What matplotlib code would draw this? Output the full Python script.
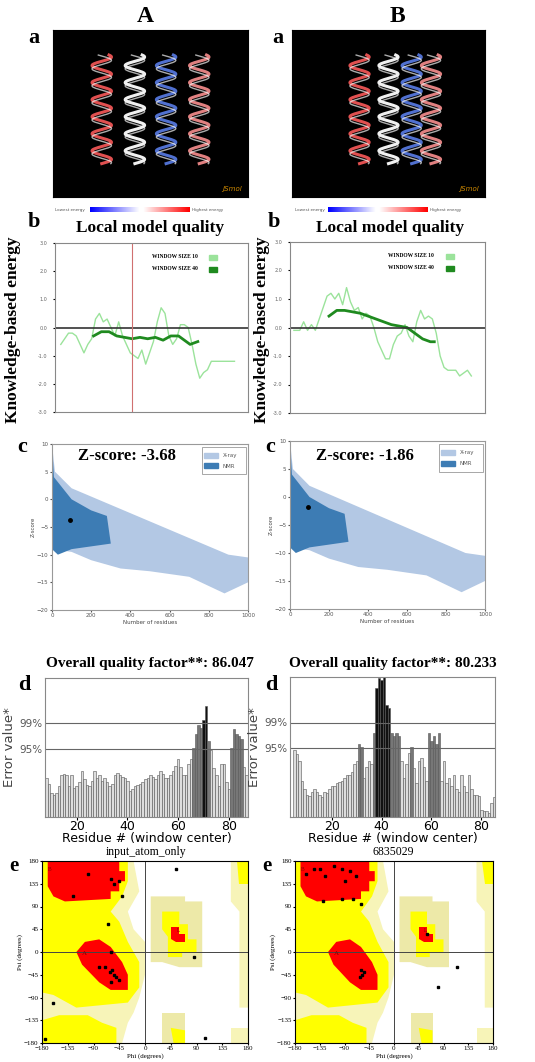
import numpy as np
import matplotlib
matplotlib.use("Agg")
import matplotlib.pyplot as plt
from matplotlib.patches import Polygon, Rectangle

W, H = 535, 1062
SERIF = ['Liberation Serif', 'DejaVu Serif']

# ---------------- data ----------------
# b: local model quality (x = residue fraction 0..100)
bA_x10 = [3,5,7,9,11,13,15,17,19,21,23,25,27,29,31,33,35,37,39,41,43,45,47,49,51,53,55,57,59,61,63,65,67,69,71,73,75,77,79,81,83,85,87,89,91,93]
bA_y10 = [-0.6,-0.4,-0.2,-0.2,-0.3,-0.6,-0.9,-0.6,-0.4,0.3,0.5,0.2,0.3,0.0,-0.3,0.2,-0.3,-0.6,-0.9,-1.0,-1.1,-0.8,-1.3,-0.9,-0.5,0.2,0.7,0.5,-0.3,-0.6,-0.4,0.1,0.1,0.0,-0.6,-1.3,-1.8,-1.6,-1.5,-1.2,-1.2,-1.2,-1.2,-1.2,-1.2,-1.2]
bA_x40 = [20,24,28,32,36,40,44,48,52,56,60,64,68,70,72,74]
bA_y40 = [-0.3,-0.15,-0.15,-0.3,-0.35,-0.4,-0.35,-0.4,-0.35,-0.45,-0.3,-0.3,-0.5,-0.6,-0.55,-0.5]
bB_x10 = [2,5,7,9,11,13,15,17,19,21,23,25,27,29,31,33,35,37,39,41,43,45,47,49,51,53,55,57,59,61,63,65,67,69,71,73,75,77,79,81,83,85,87,89,91,93]
bB_y10 = [-0.1,-0.1,0.2,-0.1,0.1,-0.1,0.3,0.7,1.1,1.2,1.0,1.2,0.8,1.4,0.9,0.6,0.7,0.3,0.5,0.4,0.0,-0.5,-0.8,-1.1,-1.1,-0.6,-0.3,-0.2,0.1,-0.3,-0.5,0.2,0.6,0.3,0.4,0.3,-0.2,-1.0,-1.4,-1.5,-1.5,-1.5,-1.7,-1.6,-1.5,-1.7]
bB_x40 = [20,24,28,32,36,40,44,48,52,56,60,64,68,72,74]
bB_y40 = [0.4,0.6,0.6,0.55,0.5,0.4,0.3,0.2,0.1,0.05,0.0,-0.2,-0.4,-0.5,-0.5]

# c: ProSA envelopes (number of residues, z-score)
xray_poly = [(0,10),(15,5),(100,2),(300,-1),(500,-4),(700,-7),(900,-10),(1000,-10.5),(1000,-15),(880,-17),(700,-14),(500,-13),(350,-12.5),(200,-11),(100,-9.5),(0,-9)]
nmr_poly = [(0,10),(10,4),(100,0),(200,-2),(280,-3),(300,-8),(200,-8.5),(100,-9),(30,-10),(0,-9)]
zscore_A, zscore_B = -3.68, -1.86
nres = 90

# d: ERRAT bars
errA_res = list(range(8, 88))
errA_val = [28,24,17,16,17,22,30,31,30,22,30,21,22,
            25,33,27,23,22,26,33,28,30,26,28,25,22,24,30,32,30,29,28,26,
            19,20,22,23,24,25,27,28,30,29,27,30,33,31,28,28,30,33,37,42,36,30,30,38,42,50,
            60,66,64,70,80,55,48,
            35,30,22,38,38,25,20,
            50,63,60,58,56,36,30]
errB_res = list(range(5, 86))
errB_val = [48,45,40,26,20,16,15,18,
            20,18,16,14,18,17,20,22,22,24,25,26,28,30,30,32,38,40,
            52,50,28,36,40,38,60,
            92,99,98,104,80,78,
            60,58,60,58,40,28,38,
            46,50,35,24,40,42,36,26,
            60,54,58,52,60,26,40,
            24,28,22,30,20,18,30,22,18,30,20,16,16,15,5,4,4,3,10,14]
errA_level = [49, 67.5]

# e: Ramachandran
rama_ticks = [-180,-135,-90,-45,0,45,90,135,180]
ptsA_phi = [-100,-60,-55,-45,-40,-65,-60,-58,-62,-55,-50,-70,-80,-45,-60,-125,-160,85,55,105,-175]
ptsA_psi = [155,145,135,140,110,55,0,-35,-40,-45,-50,-30,-30,-55,-60,110,-100,-10,165,-170,-172]
ptsB_phi = [-160,-145,-135,-125,-110,-95,-80,-75,-60,-70,-90,-95,-130,-60,-55,-58,-62,60,115,80]
ptsB_psi = [155,165,165,150,170,165,160,105,95,150,140,105,100,-35,-40,-45,-50,35,-30,-70]

beta_core = [(-170,180),(-45,180),(-45,160),(-35,160),(-35,140),(-45,140),(-45,120),(-60,120),(-60,105),(-140,100),(-160,110),(-170,130)]
alpha_core = [(-120,0),(-105,20),(-80,25),(-60,10),(-40,-20),(-30,-45),(-30,-75),(-60,-75),(-80,-60),(-110,-25)]
L_core = [(45,25),(45,50),(60,50),(60,35),(70,35),(70,20),(55,20)]
yel_main = [(-180,180),(-30,180),(-30,140),(-40,110),(-60,80),(-45,60),(-30,20),(-10,-20),(-10,-70),(-30,-100),(-120,-110),(-160,-85),(-180,-80)]
yel_bot = [(-180,-135),(-150,-125),(-100,-125),(-75,-140),(-50,-150),(-50,-180),(-180,-180)]
yel_L = [(30,80),(60,80),(60,55),(75,55),(75,25),(90,25),(90,0),(65,0),(65,-10),(40,-10),(40,30),(30,45)]
yel_top = [(160,180),(180,180),(180,135),(165,135)]
yel_gam = [(45,-150),(50,-180),(70,-180),(70,-155)]
pale_main = [(-180,180),(-20,180),(-10,120),(-30,80),(-20,45),(0,20),(0,-45),(-10,-90),(-20,-120),(-30,-140),(-40,-180),(-180,-180)]
pale_L = [(10,110),(70,110),(70,100),(100,100),(100,-30),(60,-30),(30,-20),(10,-20)]
pale_R = [(150,180),(180,180),(180,-110),(165,-110),(165,80),(150,100)]
pale_gam = [(30,-120),(70,-120),(70,-180),(30,-180)]
pale_Rb = [(150,-150),(180,-150),(180,-180),(150,-180)]

# ---------------- figure ----------------
fig = plt.figure(figsize=(W/100, H/100), dpi=100)
fig.patch.set_facecolor('white')

def ax_px(x0, y0, x1, y1):
    return fig.add_axes([x0/W, 1-y1/H, (x1-x0)/W, (y1-y0)/H])

def ftext(x, y, s, **kw):
    fig.text(x/W, 1-y/H, s, **kw)

ftext(145, 16, 'A', ha='center', va='center', fontsize=17, fontweight='bold', family=SERIF)
ftext(397, 16, 'B', ha='center', va='center', fontsize=17, fontweight='bold', family=SERIF)

# a panels (illustrative structure renderings)
for (x0, x1), lab_x in [((53, 248), 28), ((292, 485), 272)]:
    ax = ax_px(x0, 30, x1, 197)
    ax.set_facecolor('black')
    ax.set_xlim(0, 1); ax.set_ylim(0, 1)
    ax.set_xticks([]); ax.set_yticks([])
    t = np.linspace(0, 1, 200)
    starts = [0.25, 0.42, 0.58, 0.75] if x0 < 200 else [0.35, 0.5, 0.62, 0.72]
    for i, s in enumerate(starts):
        cols = ['#e05050', '#f0f0f0', '#5070d0', '#e08080']
        ax.plot(s + 0.05*np.sin(t*40), 0.2 + 0.65*t, color=cols[i % 4], lw=2.2)
        ax.plot(s + 0.05*np.sin(t*40 + 1.2), 0.2 + 0.65*t, color='#f5f5f5', lw=1.0, alpha=0.7)
    ax.text(0.97, 0.03, 'JSmol', color='#d08a00', fontsize=5, ha='right', va='bottom', style='italic')
    ftext(lab_x, 38, 'a', fontsize=16, fontweight='bold', family=SERIF, va='center')

# colour bars
for bx in [(55, 90, 140, 190), (295, 328, 376, 428)]:
    cax = ax_px(bx[1], 207, bx[2], 212)
    cax.imshow([np.linspace(0, 1, 50)], cmap=matplotlib.colors.LinearSegmentedColormap.from_list('b', ['#0000ff', '#ffffff']), aspect='auto')
    cax.axis('off')
    cax2 = ax_px(bx[2]+3, 207, bx[3], 212)
    cax2.imshow([np.linspace(0, 1, 50)], cmap=matplotlib.colors.LinearSegmentedColormap.from_list('r', ['#ffffff', '#ff0000']), aspect='auto')
    cax2.axis('off')
    ftext(bx[0], 209.5, 'Lowest energy', fontsize=3, va='center', color='#555')
    ftext(bx[3]+2, 209.5, 'Highest energy', fontsize=3, va='center', color='#555')

# b panels
bdata = [(bA_x10, bA_y10, bA_x40, bA_y40, (55, 243, 248, 412), 28, 150, True, 13),
         (bB_x10, bB_y10, bB_x40, bB_y40, (290, 242, 485, 413), 268, 390, False, 262)]
for x10, y10, x40, y40, box, labx, titx, vline, ylx in bdata:
    ax = ax_px(*box)
    ax.plot(x10, y10, color='#9be39b', lw=1.0)
    ax.plot(x40, y40, color='#1f8a1f', lw=2.0)
    ax.axhline(0, color='#333', lw=1.2)
    if vline:
        ax.axvline(40, color='#d07070', lw=0.8)
    ax.set_xlim(0, 100); ax.set_ylim(-3, 3)
    ax.set_xticks([])
    ax.set_yticks([-3, -2, -1, 0, 1, 2, 3])
    ax.set_yticklabels(['-3.0', '-2.0', '-1.0', '0.0', '1.0', '2.0', '3.0'], fontsize=3.5, color='#666')
    ax.tick_params(length=1.5, pad=4)
    for sp in ax.spines.values():
        sp.set_color('#888')
    ax.text(0.5, 0.91, 'WINDOW SIZE 10', transform=ax.transAxes, fontsize=4, fontweight='bold', family=SERIF)
    ax.text(0.5, 0.84, 'WINDOW SIZE 40', transform=ax.transAxes, fontsize=4, fontweight='bold', family=SERIF)
    ax.add_patch(Rectangle((0.8, 0.9), 0.04, 0.03, transform=ax.transAxes, color='#9be39b'))
    ax.add_patch(Rectangle((0.8, 0.83), 0.04, 0.03, transform=ax.transAxes, color='#1f8a1f'))
    ftext(labx, 222, 'b', fontsize=16, fontweight='bold', family=SERIF, va='center')
    ftext(titx, 228, 'Local model quality', fontsize=12.5, fontweight='bold', family=SERIF, ha='center', va='center')
    ftext(ylx, 330, 'Knowledge-based energy', fontsize=12.5, fontweight='bold', family=SERIF, rotation=90, ha='center', va='center')

# c panels
for box, z, labx, titx in [((52, 444, 248, 610), zscore_A, 17, 127), ((290, 441, 485, 609), zscore_B, 265, 365)]:
    ax = ax_px(*box)
    ax.add_patch(Polygon(xray_poly, closed=True, color='#b3c8e4', lw=0))
    ax.add_patch(Polygon(nmr_poly, closed=True, color='#3d7cb4', lw=0))
    ax.plot([nres], [z], 'o', color='black', ms=2.5)
    ax.set_xlim(0, 1000); ax.set_ylim(-20, 10)
    ax.set_xticks([0, 200, 400, 600, 800, 1000])
    ax.set_yticks([-20, -15, -10, -5, 0, 5, 10])
    ax.tick_params(labelsize=4, length=1.5, pad=1, colors='#555')
    ax.set_xlabel('Number of residues', fontsize=4, labelpad=1, color='#444')
    ax.set_ylabel('Z-score', fontsize=4, labelpad=1, color='#444')
    for sp in ax.spines.values():
        sp.set_color('#999')
    ax.add_patch(Rectangle((765, 4.5), 225, 5, facecolor='white', edgecolor='#999', lw=0.6))
    ax.add_patch(Rectangle((775, 7.5), 70, 0.9, color='#b3c8e4'))
    ax.add_patch(Rectangle((775, 5.6), 70, 0.9, color='#3d7cb4'))
    ax.text(870, 8, 'X-ray', fontsize=4, va='center', color='#555')
    ax.text(870, 6, 'NMR', fontsize=4, va='center', color='#555')
    ftext(labx, 447, 'c', fontsize=16, fontweight='bold', family=SERIF, va='center')
    ftext(titx, 456, 'Z-score: %.2f' % z, fontsize=12, fontweight='bold', family=SERIF, ha='center', va='center')

# d panels
def barcol(v):
    if v > errA_level[1]:
        return '#111111'
    if v > errA_level[0]:
        return '#777777'
    return '#dddddd'

for res, val, box, xl, labx, titx, title in [
        (errA_res, errA_val, (45, 678, 248, 817), (7.5, 87.5), 18, 150, 'Overall quality factor**: 86.047'),
        (errB_res, errB_val, (290, 677, 495, 817), (3.2, 85.5), 265, 393, 'Overall quality factor**: 80.233')]:
    ax = ax_px(*box)
    ax.bar(res, val, width=1.0, color=[barcol(v) for v in val], edgecolor='#555', lw=0.4)
    for lv in errA_level:
        ax.axhline(lv, color='#666', lw=0.8)
    ax.set_xlim(*xl); ax.set_ylim(0, 100)
    ax.set_xticks([20, 40, 60, 80])
    ax.set_yticks(errA_level)
    ax.set_yticklabels(['95%', '99%'], fontsize=7.5, color='#555')
    ax.tick_params(axis='x', labelsize=9, length=2, pad=0.5)
    ax.tick_params(axis='y', length=0, pad=2)
    ax.set_xlabel('Residue # (window center)', fontsize=9, labelpad=-1)
    ax.set_ylabel('Error value*', fontsize=9.5, color='#444', labelpad=2)
    for sp in ax.spines.values():
        sp.set_color('#888')
    ftext(labx, 685, 'd', fontsize=16, fontweight='bold', family=SERIF, va='center')
    ftext(titx, 663, title, fontsize=11, fontweight='bold', family=SERIF, ha='center', va='center')

# e panels
for phi, psi, box, labx, title, titx in [
        (ptsA_phi, ptsA_psi, (42, 861, 248, 1043), 9, 'input_atom_only', 146),
        (ptsB_phi, ptsB_psi, (295, 861, 493, 1043), 262, '6835029', 393)]:
    ax = ax_px(*box)
    for poly, c in [(pale_main, '#f7f4b8'), (pale_L, '#ede9a8'), (pale_R, '#f7f4b8'), (pale_gam, '#ede9a8'), (pale_Rb, '#f7f4b8'),
                    (yel_main, '#ffff00'), (yel_bot, '#ffff00'), (yel_L, '#ffff00'), (yel_top, '#ffff00'), (yel_gam, '#ffff00'),
                    (beta_core, '#ff0000'), (alpha_core, '#ff0000'), (L_core, '#ff0000')]:
        ax.add_patch(Polygon(poly, closed=True, facecolor=c, edgecolor='none'))
    ax.axhline(0, color='#444', lw=0.7)
    ax.axvline(0, color='#444', lw=0.7)
    ax.plot(phi, psi, 's', color='black', ms=2)
    ax.set_xlim(-180, 180); ax.set_ylim(-180, 180)
    ax.set_xticks(rama_ticks); ax.set_yticks(rama_ticks)
    ax.tick_params(labelsize=5, length=1.5, pad=1)
    for lab in ax.get_xticklabels() + ax.get_yticklabels():
        lab.set_family(SERIF)
    ax.set_xlabel('Phi (degrees)', fontsize=5, labelpad=1, family=SERIF)
    ax.set_ylabel('Psi (degrees)', fontsize=5, labelpad=1, family=SERIF)
    ax.text(-170, 160, 'B', fontsize=4, color='#800', family=SERIF)
    ax.text(-110, -5, 'A', fontsize=5, color='#800', family=SERIF)
    ax.text(55, 40, 'L', fontsize=4, color='#800', family=SERIF)
    ftext(labx, 866, 'e', fontsize=15, fontweight='bold', family=SERIF, va='center')
    ftext(titx, 852, title, fontsize=8.5, family=SERIF, ha='center', va='center')

fig.savefig('out.png', dpi=100, facecolor='white')
